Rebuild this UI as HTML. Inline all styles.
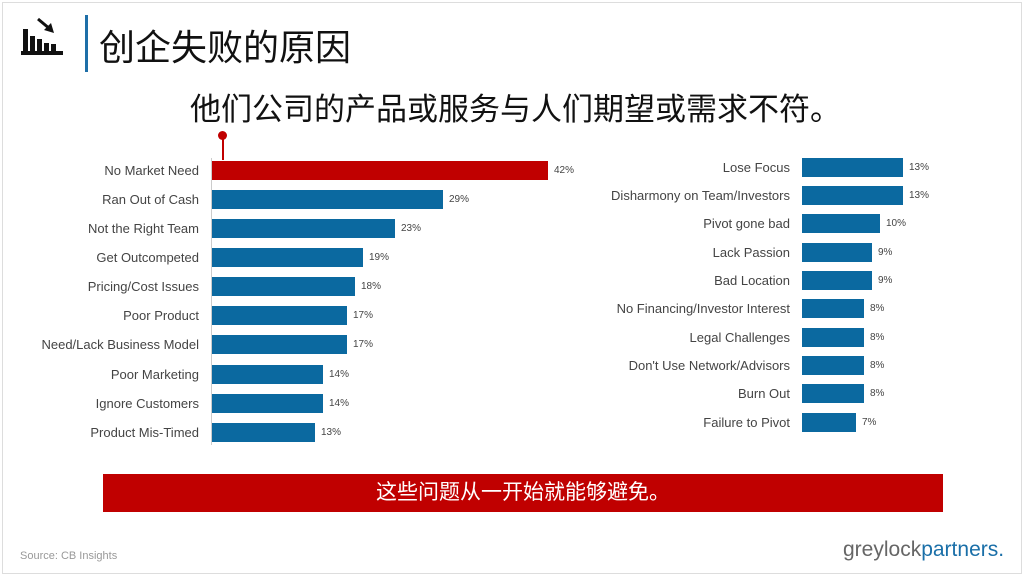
<!DOCTYPE html>
<html><head><meta charset="utf-8"><style>
body{margin:0;width:1024px;height:576px;background:#fff;position:relative;overflow:hidden;font-family:"Liberation Sans","Noto Sans CJK SC",sans-serif}
.frame{position:absolute;left:2px;top:2px;width:1018px;height:570px;border:1px solid #ddd}
.b{position:absolute;height:19px;background:#0b69a0}
.l{position:absolute;font-size:13px;color:#444;text-align:right;width:300px;line-height:19px}
.p{position:absolute;font-size:10px;color:#444;line-height:19px}
</style></head><body>
<div class="frame"></div>
<svg style="position:absolute;left:20px;top:16px" width="48" height="42" viewBox="0 0 48 42">
<rect x="3" y="13" width="5" height="24" fill="#111"/><rect x="10" y="20" width="5" height="17" fill="#111"/><rect x="17" y="23" width="5" height="14" fill="#111"/><rect x="24" y="27" width="5" height="10" fill="#111"/><rect x="31" y="28" width="5" height="9" fill="#111"/><rect x="1" y="35" width="42" height="4" fill="#111"/>
<line x1="18" y1="3" x2="30" y2="13" stroke="#111" stroke-width="3"/><polygon points="34,17 24,14 31,7" fill="#111"/></svg>
<div style="position:absolute;left:85px;top:15px;width:3px;height:57px;background:#1e6fa8"></div>
<div style="position:absolute;left:99px;top:19px;font-size:36px;color:#111">创企失败的原因</div>
<div style="position:absolute;left:190px;top:84px;font-size:31px;color:#111">他们公司的产品或服务与人们期望或需求不符。</div>
<div style="position:absolute;left:222px;top:135px;width:2px;height:25px;background:#c00000"></div>
<div style="position:absolute;left:218px;top:131px;width:9px;height:9px;border-radius:50%;background:#c00000"></div>
<div style="position:absolute;left:211px;top:158px;width:1px;height:287px;background:#ccc"></div>

<div class="l" style="left:-101px;top:161px">No Market Need</div><div class="b" style="left:212px;top:161px;width:336px;background:#c00000"></div><div class="p" style="left:554px;top:161px">42%</div>
<div class="l" style="left:-101px;top:190px">Ran Out of Cash</div><div class="b" style="left:212px;top:190px;width:231px"></div><div class="p" style="left:449px;top:190px">29%</div>
<div class="l" style="left:-101px;top:219px">Not the Right Team</div><div class="b" style="left:212px;top:219px;width:183px"></div><div class="p" style="left:401px;top:219px">23%</div>
<div class="l" style="left:-101px;top:248px">Get Outcompeted</div><div class="b" style="left:212px;top:248px;width:151px"></div><div class="p" style="left:369px;top:248px">19%</div>
<div class="l" style="left:-101px;top:277px">Pricing/Cost Issues</div><div class="b" style="left:212px;top:277px;width:143px"></div><div class="p" style="left:361px;top:277px">18%</div>
<div class="l" style="left:-101px;top:306px">Poor Product</div><div class="b" style="left:212px;top:306px;width:135px"></div><div class="p" style="left:353px;top:306px">17%</div>
<div class="l" style="left:-101px;top:335px">Need/Lack Business Model</div><div class="b" style="left:212px;top:335px;width:135px"></div><div class="p" style="left:353px;top:335px">17%</div>
<div class="l" style="left:-101px;top:365px">Poor Marketing</div><div class="b" style="left:212px;top:365px;width:111px"></div><div class="p" style="left:329px;top:365px">14%</div>
<div class="l" style="left:-101px;top:394px">Ignore Customers</div><div class="b" style="left:212px;top:394px;width:111px"></div><div class="p" style="left:329px;top:394px">14%</div>
<div class="l" style="left:-101px;top:423px">Product Mis-Timed</div><div class="b" style="left:212px;top:423px;width:103px"></div><div class="p" style="left:321px;top:423px">13%</div>

<div class="l" style="left:490px;top:158px">Lose Focus</div><div class="b" style="left:802px;top:158px;width:101px"></div><div class="p" style="left:909px;top:158px">13%</div>
<div class="l" style="left:490px;top:186px">Disharmony on Team/Investors</div><div class="b" style="left:802px;top:186px;width:101px"></div><div class="p" style="left:909px;top:186px">13%</div>
<div class="l" style="left:490px;top:214px">Pivot gone bad</div><div class="b" style="left:802px;top:214px;width:78px"></div><div class="p" style="left:886px;top:214px">10%</div>
<div class="l" style="left:490px;top:243px">Lack Passion</div><div class="b" style="left:802px;top:243px;width:70px"></div><div class="p" style="left:878px;top:243px">9%</div>
<div class="l" style="left:490px;top:271px">Bad Location</div><div class="b" style="left:802px;top:271px;width:70px"></div><div class="p" style="left:878px;top:271px">9%</div>
<div class="l" style="left:490px;top:299px">No Financing/Investor Interest</div><div class="b" style="left:802px;top:299px;width:62px"></div><div class="p" style="left:870px;top:299px">8%</div>
<div class="l" style="left:490px;top:328px">Legal Challenges</div><div class="b" style="left:802px;top:328px;width:62px"></div><div class="p" style="left:870px;top:328px">8%</div>
<div class="l" style="left:490px;top:356px">Don't Use Network/Advisors</div><div class="b" style="left:802px;top:356px;width:62px"></div><div class="p" style="left:870px;top:356px">8%</div>
<div class="l" style="left:490px;top:384px">Burn Out</div><div class="b" style="left:802px;top:384px;width:62px"></div><div class="p" style="left:870px;top:384px">8%</div>
<div class="l" style="left:490px;top:413px">Failure to Pivot</div><div class="b" style="left:802px;top:413px;width:54px"></div><div class="p" style="left:862px;top:413px">7%</div>

<div style="position:absolute;left:103px;top:474px;width:840px;height:38px;background:#c00000;color:#fff;font-size:21px;line-height:38px;text-align:center">这些问题从一开始就能够避免。</div>
<div style="position:absolute;left:20px;top:550px;font-size:11px;color:#999">Source: CB Insights</div>
<div style="position:absolute;left:843px;top:538px;font-size:21px;color:#666">greylock<span style="color:#1a6fa8">partners.</span></div>
</body></html>
